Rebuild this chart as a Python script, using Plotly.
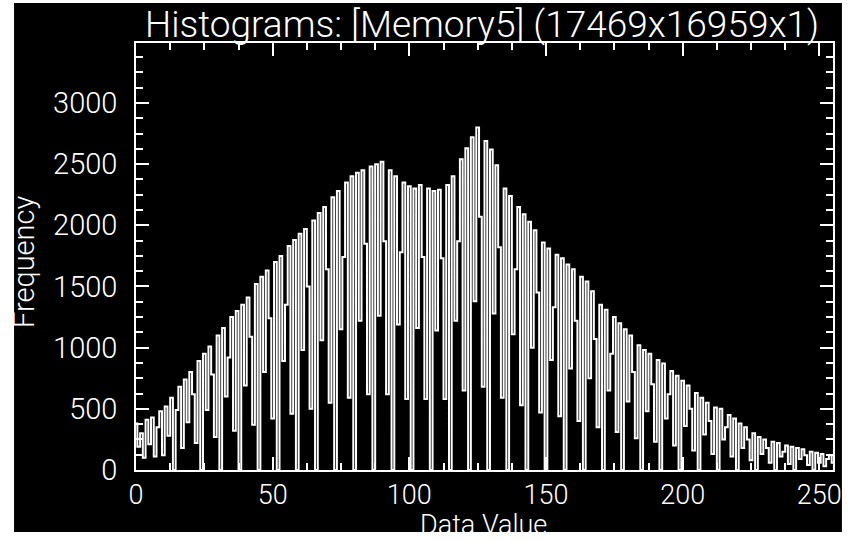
import plotly.graph_objects as go

# Histogram of data values 0..255 (frequency per bin)
data_value = list(range(256))
frequency = [
    380, 190, 300, 100, 410, 210, 430, 110, 350, 480,
    120, 520, 280, 590, 0, 490, 680, 180, 740, 390,
    800, 620, 220, 890, 0, 950, 490, 1010, 780, 270,
    1100, 0, 1160, 600, 920, 1250, 320, 1300, 0, 1350,
    690, 1410, 1090, 370, 1520, 0, 1580, 800, 1630, 1240,
    420, 1700, 0, 1750, 890, 1350, 1830, 460, 1880, 0,
    1930, 980, 1970, 1500, 500, 2040, 0, 2100, 1060, 2150,
    1640, 550, 2230, 0, 2280, 1150, 1740, 2350, 590, 2400,
    0, 2430, 1220, 2450, 1850, 620, 2480, 0, 2500, 1260,
    2520, 1870, 620, 2450, 0, 2400, 1190, 1780, 2350, 580,
    2320, 0, 2300, 1160, 2330, 1740, 580, 2300, 0, 2280,
    1140, 2290, 1730, 580, 2330, 0, 2400, 1220, 1870, 2540,
    650, 2630, 0, 2720, 1380, 2800, 2070, 680, 2690, 0,
    2620, 1280, 2490, 1820, 590, 2300, 0, 2240, 1110, 1640,
    2150, 530, 2090, 0, 2030, 1000, 1960, 1450, 470, 1860,
    0, 1810, 900, 1330, 1760, 440, 1730, 0, 1680, 830,
    1640, 1220, 400, 1580, 0, 1540, 750, 1460, 1070, 350,
    1350, 0, 1310, 650, 950, 1250, 310, 1200, 0, 1150,
    560, 1100, 800, 260, 1020, 0, 980, 480, 950, 700,
    230, 900, 0, 870, 420, 620, 810, 200, 770, 0,
    730, 360, 690, 500, 160, 630, 0, 590, 290, 550,
    400, 130, 510, 0, 500, 250, 350, 450, 110, 420,
    0, 380, 180, 350, 250, 80, 300, 0, 270, 130,
    250, 180, 60, 230, 0, 220, 110, 150, 200, 50,
    190, 0, 180, 90, 170, 120, 40, 150, 0, 140,
    60, 130, 30, 90, 120, 60,
]
x_ticks = [0, 50, 100, 150, 200, 250]
y_ticks = [0, 500, 1000, 1500, 2000, 2500, 3000]
title_text = "Histograms: [Memory5] (17469x16959x1)"
x_title = "Data Value"
y_title = "Frequency"

W, H = 854, 541
L, R, T, B = 136, 15, 43, 71
pw, ph = W - L - R, H - T - B

FONT = "Roboto"
FW = 300

fig = go.Figure()
fig.add_trace(go.Scatter(
    x=data_value, y=frequency, mode="lines",
    line=dict(color="white", width=2, shape="hvh"),
    hoverinfo="skip", showlegend=False,
))

def px_x(px):
    return (px - L) / pw

def px_y(py):
    return (H - B - py) / ph

tick_font = dict(family=FONT, size=29, color="white", weight=FW)
xtick_font = dict(family=FONT, size=27, color="white", weight=FW)

fig.update_layout(
    width=W, height=H,
    margin=dict(l=L, r=R, t=T, b=B, pad=0),
    paper_bgcolor="white",
    plot_bgcolor="black",
    shapes=[dict(type="rect", xref="paper", yref="paper", layer="below",
                 x0=px_x(13), x1=px_x(848), y0=px_y(532), y1=px_y(3),
                 fillcolor="black", line=dict(width=0))],
    xaxis=dict(
        range=[0, 255], tickvals=x_ticks, ticks="inside", ticklen=13,
        tickwidth=1.5, tickcolor="white", showline=True, linecolor="white",
        linewidth=1.5, mirror="allticks", showgrid=False, zeroline=False,
        tickfont=xtick_font,
        minor=dict(dtick=12.5, tick0=0, ticks="inside", ticklen=7,
                   tickcolor="white", tickwidth=1.5, showgrid=False),
        ticklabelstandoff=0,
    ),
    yaxis=dict(
        range=[0, 3490], tickvals=y_ticks, ticks="inside", ticklen=13,
        tickwidth=1.5, tickcolor="white", showline=True, linecolor="white",
        linewidth=1.5, mirror="allticks", showgrid=False, zeroline=False,
        tickfont=tick_font,
        minor=dict(dtick=125, tick0=0, ticks="inside", ticklen=7,
                   tickcolor="white", tickwidth=1.5, showgrid=False),
        ticklabelstandoff=11,
    ),
    annotations=[
        dict(text=title_text, xref="paper", yref="paper", x=px_x(485), y=px_y(25),
             xanchor="center", yanchor="middle", showarrow=False,
             font=dict(family=FONT, size=37, color="white", weight=FW)),
        dict(text=x_title, xref="paper", yref="paper", x=px_x(486), y=px_y(525),
             xanchor="center", yanchor="middle", showarrow=False,
             font=xtick_font),
        dict(text=y_title, xref="paper", yref="paper", x=px_x(23), y=px_y(262),
             xanchor="center", yanchor="middle", showarrow=False, textangle=-90,
             font=tick_font),
    ],
)

fig.write_html("out.html")
